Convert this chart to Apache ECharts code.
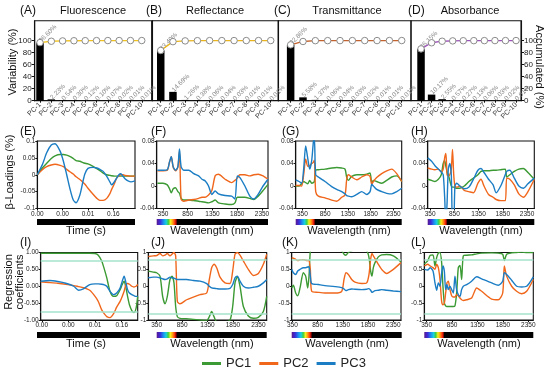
<!DOCTYPE html>
<html><head><meta charset="utf-8">
<script src="https://cdn.jsdelivr.net/npm/echarts@6/dist/echarts.min.js"></script>
<style>html,body{margin:0;padding:0;background:#fff}#c{width:550px;height:370px}</style>
</head><body><div id="c"></div>
<script>
// ---------------- DATA ----------------
const pcLabels = ['PC-1','PC-2','PC-3','PC-4','PC-5','PC-6','PC-7','PC-8','PC-9','PC-10'];
const fluoVar  = [96.60, 2.23, 0.54, 0.30, 0.12, 0.10, 0.07, 0.02, 0.01, 0.01];
const fluoAcc  = [96.60, 98.83, 99.37, 99.67, 99.79, 99.89, 99.96, 99.98, 99.99, 100.0];
const reflVar  = [83.49, 14.69, 1.26, 0.38, 0.06, 0.04, 0.03, 0.01, 0.01, 0.01];
const reflAcc  = [83.49, 98.18, 99.44, 99.82, 99.88, 99.92, 99.95, 99.96, 99.97, 99.98];
const transVar = [92.86, 5.58, 1.37, 0.06, 0.04, 0.03, 0.02, 0.01, 0.01, 0.01];
const transAcc = [92.86, 98.44, 99.81, 99.87, 99.91, 99.94, 99.96, 99.97, 99.98, 99.99];
const absVar   = [86.15, 10.17, 2.55, 0.57, 0.27, 0.13, 0.06, 0.03, 0.02, 0.01];
const absAcc   = [86.15, 96.32, 98.87, 99.44, 99.71, 99.84, 99.90, 99.93, 99.95, 99.96];
const pctTicks = [0, 20, 40, 60, 80, 100];

const timeTickPos = [0, 1, 2, 3];
const timeTickLabels = ['0.00', '0.00', '0.01', '0.16'];
const wlTicks = [350, 850, 1350, 1850, 2350];
const loadTicksE = [-0.1, -0.05, 0, 0.05, 0.1];
const loadLabelsE = ['-0.1', '-0.05', '0', '0.05', '0.1'];
const loadTicks = [-0.04, 0, 0.04, 0.08];
const loadLabels = ['-0.04', '0', '0.04', '0.08'];
const regTicks = [-1, -0.5, 0, 0.5, 1];
const regLabelsI = ['-1.00', '-0.50', '0.00', '0.50', '1.00'];
const regLabels = ['-1', '-0.5', '0', '0.5', '1'];
const refLinesI = [0.75, -0.75];
const refLines = [0.78, -0.8];

// (E) beta-loadings, fluorescence (time axis index units)
const E_x   = [0,0.2,0.37,0.55,0.7,0.9,1.03,1.16,1.3,1.42,1.53,1.68,1.8,1.88,2.0,2.2,2.35,2.47,2.6,2.74,2.87,2.93,3.05,3.13,3.22,3.29,3.39,3.46,3.58,3.7,3.85];
const E_pc1 = [0,0.02,0.034,0.048,0.056,0.06,0.06,0.058,0.054,0.048,0.042,0.04,0.036,0.034,0.032,0.025,0.018,0.012,0.005,0,-0.002,-0.003,-0.004,-0.004,-0.004,-0.004,-0.004,-0.004,-0.004,-0.004,-0.004];
const E_pc2 = [0,0.015,0.024,0.029,0.031,0.028,0.024,0.016,0.008,0.002,-0.006,-0.014,-0.022,-0.028,-0.04,-0.058,-0.07,-0.076,-0.076,-0.07,-0.055,-0.044,-0.025,-0.01,-0.003,0,0,-0.002,-0.003,-0.004,-0.004];
const E_pc3 = [0,0.03,0.065,0.088,0.092,0.07,0.04,0,-0.045,-0.075,-0.083,-0.06,-0.02,0.003,0.019,0.022,0.02,0.016,0.01,-0.005,-0.022,-0.03,-0.02,-0.01,0,0.003,-0.005,-0.012,-0.018,-0.021,-0.018];

// (F) reflectance loadings
const F_x   = [237,350,437,483,517,557,603,650,683,717,770,870,970,1070,1137,1204,1270,1337,1404,1470,1604,1737,1804,1850,1904,2004,2104,2184,2271,2371,2471];
const F_pc1 = [0.005,0.005,0.002,-0.005,-0.012,-0.005,-0.003,-0.01,-0.013,-0.022,-0.025,-0.025,-0.026,-0.027,-0.028,-0.029,-0.03,-0.028,-0.025,-0.03,-0.032,-0.033,-0.03,-0.02,-0.02,-0.02,-0.022,-0.024,-0.018,-0.008,0.003];
const F_pc2 = [0.027,0.027,0.028,0.043,0.052,0.033,0.027,0.033,0.062,-0.024,-0.027,-0.025,-0.024,-0.022,-0.02,-0.02,-0.016,-0.008,0.018,0.021,0.012,0.006,0.01,0.014,0.02,0.02,0.018,0.02,0.021,0.018,0.012];
const F_pc3 = [0.028,0.028,0.029,0.043,0.052,0.034,0.028,0.034,0.066,0.034,0.028,0.028,0.022,0.018,0.012,0.009,0,-0.015,-0.009,-0.014,-0.017,-0.018,-0.023,0.018,0.015,0,-0.018,-0.023,-0.015,0,0.012];

// (G) transmittance loadings
const G_x   = [204,277,335,379,423,467,511,555,592,614,643,701,848,994,1104,1214,1287,1324,1360,1433,1543,1653,1763,1836,1873,1909,1982,2092,2202,2312,2422,2531];
const G_pc1 = [0,0,0.004,0.008,0.006,0.004,0.01,0.005,0.006,0.008,0.028,0.029,0.03,0.032,0.033,0.032,0.03,0.015,0.01,0.017,0.02,0.02,0.021,0.023,0.006,0.01,0.008,0.005,0.01,0.016,0.018,0.008];
const G_pc2 = [0.001,0.001,0,0.02,0.048,0.035,0.036,0.04,0.042,0.046,-0.01,-0.018,-0.021,-0.025,-0.027,-0.02,-0.016,0.012,0.02,0.016,0.011,0.016,0.02,0.017,0.003,0.008,0.015,0.022,0.027,0.03,0.022,0.008];
const G_pc3 = [0.011,0.008,0.005,0.03,0.071,0.05,0.03,0.045,0.078,0.085,0.02,0.016,0.008,-0.001,-0.006,-0.01,-0.014,-0.017,-0.018,-0.019,-0.015,-0.01,-0.015,-0.01,0.003,0,-0.006,-0.01,-0.013,-0.014,-0.01,-0.004];

// (H) absorbance loadings
const H_x   = [300,380,450,520,580,620,650,675,700,725,756,787,812,837,862,900,962,1056,1150,1244,1337,1400,1462,1556,1650,1712,1806,1900,1931,1994,2087,2181,2275,2369,2500];
const H_pc1 = [0.012,0.01,0.008,0.012,0.02,0.04,0.045,0.035,0.025,0.02,0.01,0,-0.002,-0.002,-0.003,-0.004,-0.004,0,0.008,0.014,0.02,0.026,0.027,0.027,0.028,0.028,0.029,0.03,0.016,0.02,0.026,0.03,0.031,0.024,0.012];
const H_pc2 = [0.032,0.03,0.029,0.03,0.025,0.03,0.05,0.058,0.02,0.018,0.02,0.03,0.065,0.02,0,-0.002,0,-0.008,-0.01,-0.012,0.005,0.012,0,-0.015,-0.02,-0.024,-0.026,-0.026,0.014,0.012,0.002,-0.014,-0.02,-0.01,0.012];
const H_pc3 = [0.05,0.044,0.036,0.03,0.025,0.02,-0.02,-0.07,-0.03,0.03,0.04,0.02,-0.07,-0.07,0,0.005,0,-0.005,-0.002,0.012,0.028,0.031,0.024,0.012,0.002,-0.012,0,0.02,0.026,0.028,0.014,0,-0.004,0.004,0.014];

// (I) regression coefficients, fluorescence
const I_x   = [-0.04,0.3,0.6,0.9,1.2,1.38,1.56,1.8,2.0,2.12,2.25,2.35,2.44,2.56,2.69,2.81,2.94,3.02,3.09,3.16,3.22,3.29,3.38,3.46,3.54,3.6];
const I_pc1 = [0.98,0.98,0.98,0.98,0.98,0.98,0.98,0.98,0.97,0.92,0.75,0.5,0.25,-0.15,-0.3,-0.28,-0.1,0.05,0.15,-0.05,-0.3,-0.55,-0.72,-0.78,-0.65,-0.3];
const I_pc2 = [0.13,0.11,0.09,0.06,0.02,-0.01,-0.04,-0.12,-0.3,-0.45,-0.7,-0.82,-0.9,-0.93,-0.82,-0.62,-0.45,-0.3,-0.15,0.05,0.08,0.06,0,-0.02,0,0.05];
const I_pc3 = [0.15,0.17,0.14,0.09,0,-0.12,-0.08,0.05,0.07,0.07,0.06,0.04,0,-0.15,-0.25,-0.2,-0.05,0.15,0.3,0.1,-0.1,-0.2,-0.25,-0.28,-0.3,-0.3];

// (J) reflectance regression coefficients
const J_x   = [186,284,350,416,468,514,560,612,652,691,724,757,809,940,1071,1202,1334,1386,1432,1478,1530,1596,1694,1793,1845,1891,1937,1989,2055,2153,2252,2350,2448,2514];
const J_pc1 = [0.45,0.42,0.4,0.3,-0.3,-0.52,-0.3,0.2,0.3,0.1,-0.6,-0.9,-0.95,-0.96,-0.98,-1.0,-1.02,-0.9,-0.75,-0.9,-1.05,-1.05,-1.05,-1.0,-0.6,0.1,0.28,0,-0.6,-0.88,-0.95,-0.92,-0.75,-0.3];
const J_pc2 = [0.88,0.9,0.91,0.97,0.9,0.92,0.97,0.9,0.95,1.0,0.9,-0.45,-0.52,-0.4,-0.32,-0.25,-0.2,0.2,0.55,0.65,0.55,0.27,0.1,0.08,0.45,0.95,1.0,0.92,0.75,0.5,0.32,0.38,0.65,0.95];
const J_pc3 = [0.25,0.27,0.27,0.25,0.22,0.2,0.22,0.27,0.25,0.24,0.22,0.2,0.2,0.2,0.17,0.15,0.08,0,-0.05,-0.06,-0.07,-0.08,-0.08,-0.06,0.05,0.25,0.3,0.15,0,-0.05,-0.03,0,0.1,0.2];

// (K) transmittance regression coefficients
const K_x   = [337,370,416,456,502,568,614,654,680,706,733,865,997,1195,1327,1373,1413,1459,1525,1591,1723,1822,1868,1901,1927,1954,1987,2053,2119,2218,2350,2502];
const K_pc1 = [-0.05,0.03,-0.2,-0.28,-0.05,0.4,0.3,-0.05,0.3,1.05,1.08,1.08,1.08,1.08,1.05,0.95,0.92,1.0,1.05,1.08,1.08,1.05,0.85,0.45,0.3,0.55,0.7,0.87,0.93,0.94,0.9,0.72];
const K_pc2 = [0.85,0.83,0.8,0.76,0.78,0.79,0.77,0.76,0.76,0.5,-0.15,-0.18,-0.2,-0.2,-0.15,0.2,0.4,0.35,0.2,0.12,0.08,0.1,0.35,0.8,0.97,0.9,0.82,0.65,0.5,0.38,0.5,0.7];
const K_pc3 = [0.5,0.4,0.35,0.45,0.5,0.55,0.55,0.57,0.58,0.3,0.08,0.05,0.02,-0.01,-0.04,-0.08,-0.13,-0.1,-0.08,-0.09,-0.1,-0.09,-0.07,-0.12,-0.18,-0.16,-0.13,-0.12,-0.1,-0.12,-0.14,-0.16];

// (L) absorbance regression coefficients
const L_x   = [304,370,422,475,514,547,580,612,645,671,698,724,750,776,809,842,875,907,940,973,1006,1038,1071,1137,1235,1334,1432,1629,1760,1846,1878,1924,2022,2120,2219,2317,2448];
const L_pc1 = [0.66,0.75,0.92,0.93,0.6,0.85,0.98,1.0,0.7,0,-0.5,-0.58,-0.6,-0.6,-0.6,-0.6,-0.6,-0.58,-0.2,0.55,0.62,0.2,0.9,0.92,0.93,0.96,0.98,0.99,0.98,0.95,0.76,0.95,0.99,1.0,1.01,1.0,1.0];
const L_pc2 = [0.6,0.65,0.6,0.55,0.5,0.65,0.55,0.2,-0.45,-0.55,-0.5,-0.2,0.1,0.15,-0.1,-0.28,-0.32,-0.32,-0.25,-0.28,-0.35,-0.4,-0.42,-0.4,-0.35,-0.05,-0.15,-0.38,-0.4,-0.2,0.6,0.3,0,-0.15,-0.22,-0.15,0.2];
const L_pc3 = [0.5,0.48,0.55,0.45,0.1,-0.12,0.1,0,0.4,0.6,0.45,-0.1,0.05,-0.1,0,-0.1,-0.2,0.3,-0.1,-0.25,-0.3,-0.1,0,0.05,0.15,0.28,0.22,0.1,0.03,0.15,0.4,0.35,0.18,0,-0.02,0,0.28];

// ---------------- BUILD ----------------
const FONT = '"Liberation Sans", Arial, sans-serif';
const COL = {PC1:'#3b9a33', PC2:'#f0671c', PC3:'#1b7dc4'};
const grids = [], xAxes = [], yAxes = [], series = [], graphic = [];

function lab(vals, labels){ return v => { const i = vals.findIndex(t => Math.abs(t - v) < 1e-9); return i < 0 ? '' : labels[i]; }; }
function addGrid(b){ grids.push({left:b[0], top:b[1], width:b[2]-b[0], height:b[3]-b[1], show:true, borderColor:'#111', borderWidth:1.1, backgroundColor:'rgba(0,0,0,0)'}); return grids.length-1; }

function topPanel(b, xr, vals, acc, lineColor, yMode){
  const g = addGrid(b);
  const idx = vals.map((v,i)=>i);
  xAxes.push({gridIndex:g, type:'value', min:xr[0], max:xr[1],
    axisLine:{show:true, onZero:false, lineStyle:{color:'#111', width:1.1}},
    axisTick:{show:true, customValues:idx, length:2, lineStyle:{color:'#111'}},
    axisLabel:{customValues:idx, rotate:45, fontSize:7, color:'#333', margin:3, fontFamily:FONT, formatter:v=>pcLabels[Math.round(v)]},
    splitLine:{show:false}});
  yAxes.push({gridIndex:g, type:'value', min:0, max:133, position: yMode==='right'?'right':'left',
    axisLine:{show:true, onZero:false, lineStyle:{color:'#111', width:1.1}},
    axisTick:{show:yMode!=='none', customValues:pctTicks, length:3, lineStyle:{color:'#111'}},
    axisLabel:{show:yMode!=='none', customValues:pctTicks, fontSize:8, color:'#222', margin:3, fontFamily:FONT},
    splitLine:{show:false}});
  const xi = xAxes.length-1, yi = yAxes.length-1;
  series.push({type:'bar', xAxisIndex:xi, yAxisIndex:yi, data:vals.map((v,i)=>[i,v]), barWidth:7.5,
    itemStyle:{color:'#000'}, z:2,
    label:{show:true, position:'top', rotate:45, align:'left', verticalAlign:'middle', distance:1, fontSize:6.5, color:'#888', fontFamily:FONT,
      formatter:p=>p.value[1].toFixed(2)+'%'}});
  series.push({type:'line', xAxisIndex:xi, yAxisIndex:yi, data:acc.map((v,i)=>[i,v]), symbol:'circle', symbolSize:6.5, showAllSymbol:true,
    lineStyle:{color:lineColor, width:1.3}, itemStyle:{color:'#fff', borderColor:'#8a8a8a', borderWidth:1}, z:4, silent:true});
}

function linePanel(b, xr, xTicks, xFmt, yr, yTicks, yFmt, xs, ys, refs){
  const g = addGrid(b);
  xAxes.push({gridIndex:g, type:'value', min:xr[0], max:xr[1],
    axisLine:{show:true, onZero:false, lineStyle:{color:'#111', width:1.1}},
    axisTick:{show:true, customValues:xTicks, length:2, lineStyle:{color:'#111'}},
    axisLabel:{customValues:xTicks, formatter:xFmt, fontSize:6.5, color:'#222', margin:2, fontFamily:FONT},
    splitLine:{show:false}});
  yAxes.push({gridIndex:g, type:'value', min:yr[0], max:yr[1],
    axisLine:{show:true, onZero:false, lineStyle:{color:'#111', width:1.1}},
    axisTick:{show:true, customValues:yTicks, length:2, lineStyle:{color:'#111'}},
    axisLabel:{customValues:yTicks, formatter:yFmt, fontSize:6.5, color:'#222', margin:2, fontFamily:FONT},
    splitLine:{show:false}});
  const xi = xAxes.length-1, yi = yAxes.length-1;
  ['PC1','PC2','PC3'].forEach((n,k)=>{
    const s = {name:n, type:'line', xAxisIndex:xi, yAxisIndex:yi, data:xs.map((x,i)=>[x, ys[k][i]]),
      showSymbol:false, smooth:0.25, lineStyle:{width:1.4, color:COL[n]}, itemStyle:{color:COL[n]}, z:3+k, silent:true};
    if (refs && k===0) s.markLine = {silent:true, symbol:'none', label:{show:false}, lineStyle:{color:'#a6e3cc', width:1.5, type:'solid'}, data:refs.map(v=>({yAxis:v}))};
    series.push(s);
  });
}

// top row
const topY = [20.7, 100.7];
topPanel([34.7, topY[0], 151.7, topY[1]], [-0.47, 9.88], fluoVar, fluoAcc, '#f2c21e', 'left');
topPanel([152.3, topY[0], 278.3, topY[1]], [-0.69, 9.62], reflVar, reflAcc, '#eab51c', 'none');
topPanel([278.3, topY[0], 411, topY[1]], [-1.0, 9.75], transVar, transAcc, '#c2622c', 'none');
topPanel([411, topY[0], 521, topY[1]], [-0.95, 9.47], absVar, absAcc, '#9d52b8', 'right');

// row 2
const r2 = [141, 208.5];
linePanel([37.3, r2[0], 135, r2[1]], [0, 3.855], timeTickPos, lab(timeTickPos, timeTickLabels), [-0.1, 0.1], loadTicksE, lab(loadTicksE, loadLabelsE), E_x, [E_pc1,E_pc2,E_pc3]);
linePanel([156.7, r2[0], 268, r2[1]], [223, 2471], wlTicks, String, [-0.04, 0.08], loadTicks, lab(loadTicks, loadLabels), F_x, [F_pc1,F_pc2,F_pc3]);
linePanel([295.7, r2[0], 401.7, r2[1]], [204, 2531], wlTicks, String, [-0.04, 0.08], loadTicks, lab(loadTicks, loadLabels), G_x, [G_pc1,G_pc2,G_pc3]);
linePanel([427.7, r2[0], 534.3, r2[1]], [300, 2500], wlTicks, String, [-0.04, 0.08], loadTicks, lab(loadTicks, loadLabels), H_x, [H_pc1,H_pc2,H_pc3]);

// row 3
const r3 = [252.5, 320];
linePanel([40.7, r3[0], 137.7, r3[1]], [-0.04, 3.6], timeTickPos, lab(timeTickPos, timeTickLabels), [-1, 1], regTicks, lab(regTicks, regLabelsI), I_x, [I_pc1,I_pc2,I_pc3], refLinesI);
linePanel([148.3, r3[0], 266.7, r3[1]], [186, 2514], wlTicks, String, [-1, 1], regTicks, lab(regTicks, regLabels), J_x, [J_pc1,J_pc2,J_pc3], refLines);
linePanel([291.7, r3[0], 401, r3[1]], [337, 2502], wlTicks, String, [-1, 1], regTicks, lab(regTicks, regLabels), K_x, [K_pc1,K_pc2,K_pc3], refLines);
linePanel([424.3, r3[0], 533.3, r3[1]], [304, 2448], wlTicks, String, [-1, 1], regTicks, lab(regTicks, regLabels), L_x, [L_pc1,L_pc2,L_pc3], refLines);

// ---------------- decorations ----------------
function txt(x, y, s, size, opts){
  graphic.push(Object.assign({type:'text', x:x, y:y, silent:true,
    style:Object.assign({text:s, fill:'#111', font: size+'px '+FONT, align:'left', verticalAlign:'middle'}, (opts&&opts.style)||{})},
    opts&&opts.rotation!==undefined?{rotation:opts.rotation}:{}));
}
const rainbow = [[0,'#5b1a8f'],[0.03,'#3a2bd8'],[0.06,'#1c8cf0'],[0.085,'#19d0e0'],[0.105,'#40d040'],[0.125,'#f5f020'],[0.145,'#ff9a10'],[0.165,'#ff2a10'],[0.18,'#600000'],[0.185,'#000'],[1,'#000']];
function cbar(x0, x1, y, h, spectral){
  graphic.push({type:'rect', silent:true, shape:{x:x0, y:y, width:x1-x0, height:h},
    style:{fill: spectral ? new echarts.graphic.LinearGradient(0,0,1,0, rainbow.map(s=>({offset:s[0], color:s[1]}))) : '#000'}});
}
// panel letters and titles
txt(20, 11, '(A)', 12); txt(93, 11, 'Fluorescence', 11, {style:{align:'center'}});
txt(146, 11, '(B)', 12); txt(215, 11, 'Reflectance', 11, {style:{align:'center'}});
txt(274, 11, '(C)', 12); txt(347, 11, 'Transmittance', 11, {style:{align:'center'}});
txt(408, 11, '(D)', 12); txt(470, 11, 'Absorbance', 11, {style:{align:'center'}});
txt(20, 132, '(E)', 12); txt(151, 132, '(F)', 12); txt(282, 132, '(G)', 12); txt(411, 132, '(H)', 12);
txt(20, 243, '(I)', 12); txt(151, 243, '(J)', 12); txt(282, 243, '(K)', 12); txt(411, 243, '(L)', 12);
// axis titles
txt(13, 62, 'Variability (%)', 11, {rotation:Math.PI/2, style:{align:'center'}});
txt(539, 67, 'Accumulated (%)', 11, {rotation:-Math.PI/2, style:{align:'center'}});
txt(10, 172, 'β-Loadings (%)', 11, {rotation:Math.PI/2, style:{align:'center'}});
txt(9, 282, 'Regression', 11, {rotation:Math.PI/2, style:{align:'center'}});
txt(20, 282, 'coefficients', 11, {rotation:Math.PI/2, style:{align:'center'}});
// colour bars and x titles
cbar(37, 135, 219, 6, false); txt(86, 231, 'Time (s)', 11, {style:{align:'center'}});
cbar(156.7, 268, 219, 6, true); txt(212, 231, 'Wavelength (nm)', 11, {style:{align:'center'}});
cbar(295.7, 401.7, 219, 6, true); txt(349, 231, 'Wavelength (nm)', 11, {style:{align:'center'}});
cbar(427.7, 534.3, 219, 6, true); txt(481, 231, 'Wavelength (nm)', 11, {style:{align:'center'}});
cbar(37, 140, 332, 6, false); txt(86, 344, 'Time (s)', 11, {style:{align:'center'}});
cbar(156.7, 266.7, 332, 6, true); txt(212, 344, 'Wavelength (nm)', 11, {style:{align:'center'}});
cbar(291.7, 401.7, 332, 6, true); txt(347, 344, 'Wavelength (nm)', 11, {style:{align:'center'}});
cbar(424.3, 533.3, 332, 6, true); txt(479, 344, 'Wavelength (nm)', 11, {style:{align:'center'}});

const chart = echarts.init(document.getElementById('c'), null, {renderer:'canvas'});
chart.setOption({
  animation:false,
  textStyle:{fontFamily:FONT},
  grid:grids, xAxis:xAxes, yAxis:yAxes, series:series, graphic:graphic,
  legend:{data:['PC1','PC2','PC3'], left:197, top:352, icon:'rect', itemWidth:19, itemHeight:3, itemGap:8,
    textStyle:{fontSize:13, color:'#222', fontFamily:FONT}, selectedMode:false}
});
</script></body></html>
